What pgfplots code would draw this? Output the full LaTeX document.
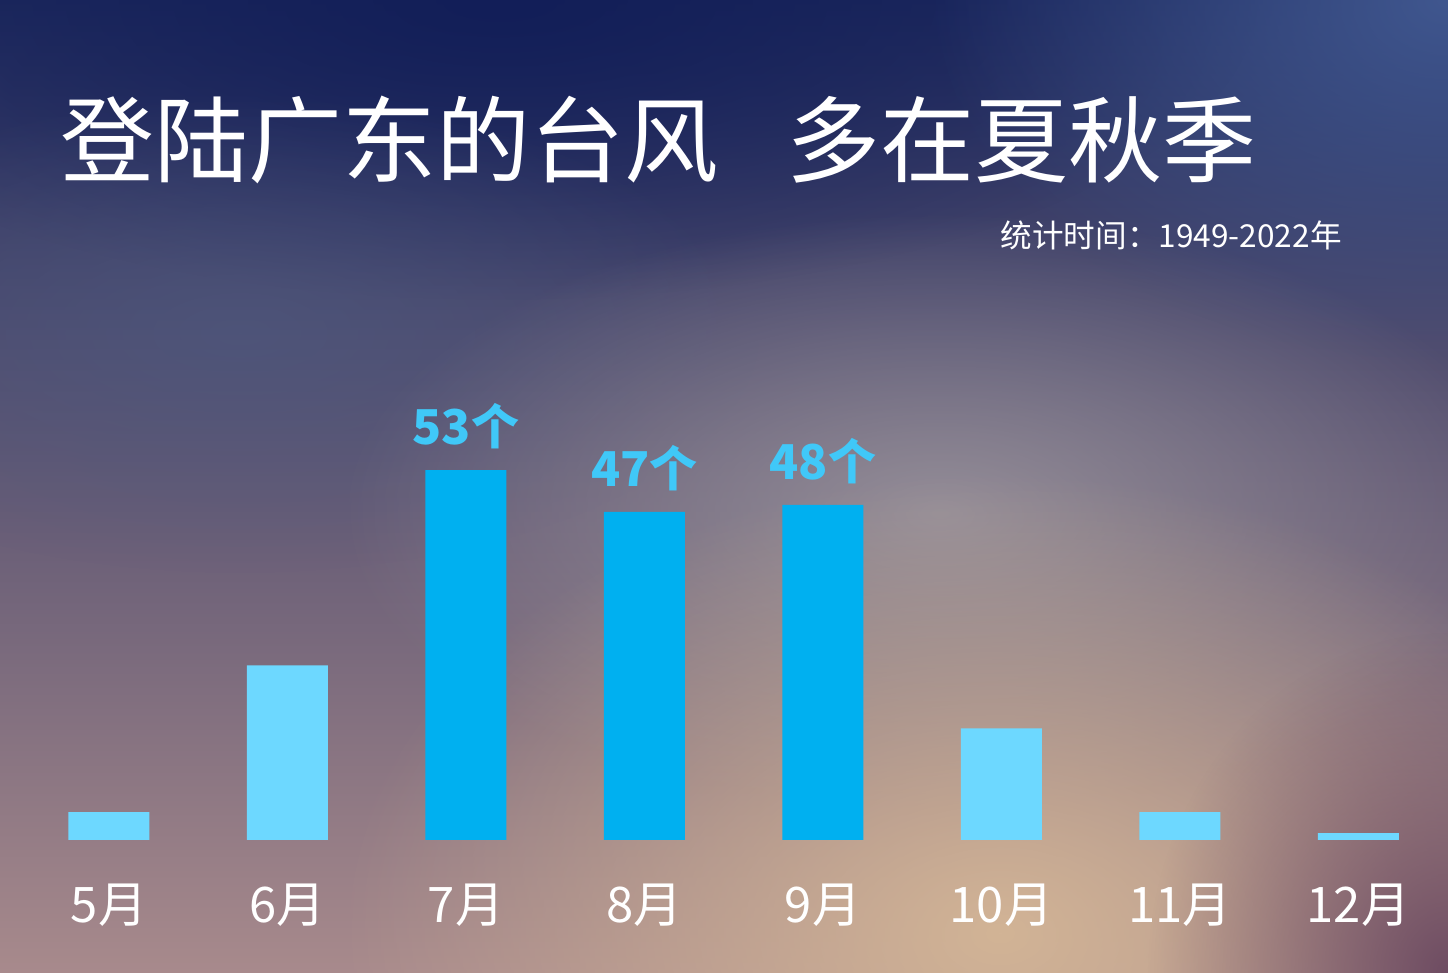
\documentclass[border=0pt]{standalone}
\usepackage{fontspec}
\setmainfont{Noto Sans CJK SC}
\usepackage{pgfplots}
\pgfplotsset{compat=1.18}
\usetikzlibrary{fadings}
\tikzfading[name=radfade, inner color=transparent!0, outer color=transparent!100]
\definecolor{bgtop}{HTML}{1E2A5E}
\definecolor{bgmid}{HTML}{7E8096}
\definecolor{bgbot}{HTML}{A88A8C}
\definecolor{warm}{HTML}{D2B496}
\definecolor{topright}{HTML}{40578F}
\definecolor{topleft}{HTML}{121E58}
\definecolor{midgray}{HTML}{A09AA0}
\definecolor{leftblue}{HTML}{4E5A80}
\definecolor{brcorner}{HTML}{6E4C62}
\definecolor{barD}{HTML}{00B0F0}
\definecolor{barL}{HTML}{6DD8FF}
\definecolor{lab}{HTML}{40C8F8}
\begin{document}
\begin{tikzpicture}
\useasboundingbox (0,0) rectangle (724pt,486.5pt);
\begin{scope}
\clip (0,0) rectangle (724pt,486.5pt);
\shade[top color=bgtop, middle color=bgmid, bottom color=bgbot] (0,0) rectangle (724pt,486.5pt);
\fill[topleft, path fading=radfade] (250pt,486.5pt) ellipse (380pt and 150pt);
\fill[topright, path fading=radfade] (724pt,486.5pt) ellipse (260pt and 180pt);
\fill[leftblue, path fading=radfade, opacity=0.6] (120pt,320pt) ellipse (260pt and 120pt);
\fill[midgray, path fading=radfade, opacity=0.8] (470pt,230pt) ellipse (300pt and 150pt);
\fill[warm, path fading=radfade] (500pt,20pt) ellipse (330pt and 230pt);
\fill[brcorner, path fading=radfade] (724pt,0pt) ellipse (150pt and 170pt);
\end{scope}
\node[anchor=west, inner sep=0pt, text=white, font=\fontsize{47}{47}\selectfont] at (30pt,416.5pt) {登陆广东的台风};
\node[anchor=west, inner sep=0pt, text=white, font=\fontsize{47}{47}\selectfont] at (393pt,416.5pt) {多在夏秋季};
\node[anchor=east, inner sep=0pt, text=white, font=\fontsize{15.8}{15.8}\selectfont] at (671pt,369pt) {统计时间：1949-2022年};
\begin{axis}[
  at={(9.875pt,66.5pt)}, anchor=south west,
  scale only axis, width=714pt, height=209.4pt,
  xmin=-0.5, xmax=7.5, ymin=0, ymax=60,
  axis line style={draw=none},
  major tick length=0pt,
  ytick=\empty,
  xtick={0,1,2,3,4,5,6,7},
  xticklabels={5月,6月,7月,8月,9月,10月,11月,12月},
  xticklabel style={anchor=center, yshift=-32.5pt, text=white, font=\fontsize{24.5}{24.5}\selectfont},
  ybar, bar width=40.5pt, bar shift=0pt,
  clip=false,
  /pgf/number format/assume math mode=true,
]
\addplot[fill=barL, draw=none] coordinates {(0,4) (1,25) (5,16) (6,4) (7,1)};
\addplot[fill=barD, draw=none,
  nodes near coords={\pgfmathprintnumber{\pgfplotspointmeta}个},
  every node near coord/.append style={anchor=center, yshift=22pt, text=lab, font=\bfseries\fontsize{24}{24}\selectfont}]
  coordinates {(2,53) (3,47) (4,48)};
\end{axis}
\end{tikzpicture}
\end{document}
